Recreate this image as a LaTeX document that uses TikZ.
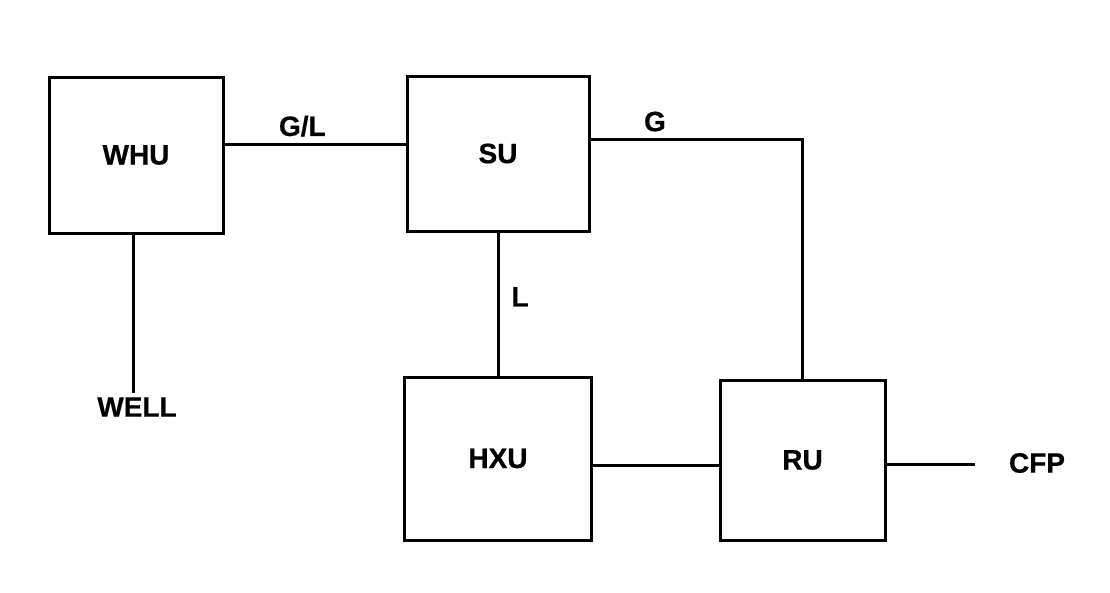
\documentclass[tikz,border=0pt]{standalone}
\usepackage{fontspec}
\setmainfont{Liberation Sans}[FakeBold=0.6]
\usetikzlibrary{positioning}
\usetikzlibrary{calc}
\tikzset{unit block/.style={draw=black, rectangle, line width=3pt, inner sep=0pt}}
\tikzset{stream label/.style={inner sep=0pt}}

\begin{document}
\begin{tikzpicture}[x=1pt, y=-1pt, line width=3pt, font=\fontsize{28}{32}\selectfont\bfseries]
\useasboundingbox (0,0) rectangle (1110,592);
\node[unit block, minimum width=174pt, minimum height=156pt] (whu) at (136,155) {WHU};
\node[unit block, minimum width=182pt, minimum height=155pt] (su) at (498,153.5) {SU};
\node[unit block, minimum width=187pt, minimum height=163pt] (hxu) at (498,458.5) {HXU};
\node[unit block, minimum width=165pt, minimum height=160pt] (ru) at (802.5,460) {RU};
\node (well) at (137,407) {WELL};
\node (cfp) at (1037,463) {CFP};
\coordinate (cfp end) at (975,464);
\draw ([yshift=11pt]whu.east) to node[stream label, above=6pt, pos=0.43] {G/L} ([yshift=11pt]whu.east -| su.west);
\draw ([yshift=14.5pt]su.east) -| node[stream label, above=6pt, pos=0.152] {G} (ru.north);
\draw (su.south) to node[stream label, right=12pt, pos=0.45] {L} (hxu.north);
\draw ([yshift=-7pt]hxu.east) -- ([yshift=-7pt]hxu.east -| ru.west);
\draw (ru.east |- cfp end) -- (cfp end);
\draw ([xshift=-3pt]whu.south) -- ([xshift=-3pt]whu.south |- well.north);
\end{tikzpicture}
\end{document}
